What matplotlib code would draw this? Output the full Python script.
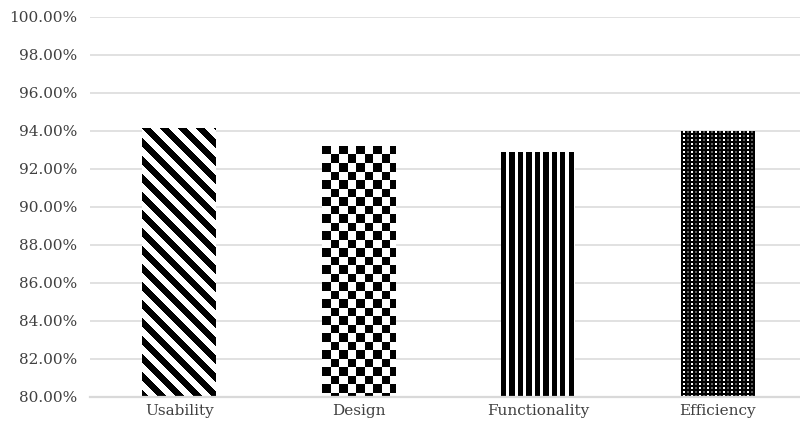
import numpy as np
import matplotlib
matplotlib.use('Agg')
import matplotlib.pyplot as plt
import matplotlib as mpl
from matplotlib.ticker import FuncFormatter

mpl.rcParams['font.family'] = ['DejaVu Serif']

# data
categories = ['Usability', 'Design', 'Functionality', 'Efficiency']
values = [94.15, 93.2, 92.87, 93.98]
y_ticks = [80, 82, 84, 86, 88, 90, 92, 94, 96, 98, 100]

grid_col = '#d9d9d9'
text_col = '#404040'
bar_w = 0.41

fig = plt.figure(figsize=(8, 4.3), dpi=100)
# axes spans a bit past the right edge, like the cropped original
ax = fig.add_axes([89.5 / 800, 1 - 396.7 / 430, 718 / 800, 380 / 430])

x = np.arange(len(categories))
bars = ax.bar(x, [v - 80 for v in values], bottom=80, width=bar_w,
              color='white', edgecolor='black', linewidth=0, zorder=2)


def pattern_image(patch, tile, cx, cy):
    # tile a small pattern over the bar and clip it to the bar
    x0, y0 = patch.get_x(), patch.get_y()
    w, h = patch.get_width(), patch.get_height()
    nx = int(np.ceil(w / cx))
    ny = int(np.ceil(h / cy))
    ty, tx = tile.shape
    img = np.tile(tile, (ny // ty + 1, nx // tx + 1))[:ny, :nx]
    top = y0 + h
    im = ax.imshow(img, cmap='gray', vmin=0, vmax=1, interpolation='nearest',
                   extent=[x0, x0 + nx * cx, top - ny * cy, top],
                   origin='upper', aspect='auto', zorder=3)
    im.set_clip_path(patch)


px_x = 1 / 179.5   # one pixel in category units
px_y = 1 / 19.0    # one pixel in percent units

# Usability: wide downward diagonal (18 px period, about half black)
period = 18
ii, jj = np.meshgrid(np.arange(period), np.arange(period), indexing='ij')
diag = (((jj - ii) % period) >= 9).astype(float)
pattern_image(bars[0], diag, px_x, px_y)

# Design: checkerboard
checker = np.array([[0, 1], [1, 0]])
pattern_image(bars[1], checker, 8.5 * px_x, 8.5 * px_y)

# Functionality: vertical stripes, black wider than white
stripes = np.array([[0, 0, 0, 0, 0, 1, 1, 1]], dtype=float)
pattern_image(bars[2], stripes, 1.05 * px_x, px_y)

# Efficiency: black with small white dots
dots = np.array([[0, 1, 0, 0.35],
                 [0, 0, 0, 0]])
pattern_image(bars[3], dots, 2 * px_x, 2 * px_y)

ax.set_xlim(-0.5, len(categories) - 0.5)
ax.set_ylim(80, 100)
ax.set_yticks(y_ticks)
ax.yaxis.set_major_formatter(FuncFormatter(lambda v, p: f'{v:.2f}%'))
ax.set_xticks(x)
ax.set_xticklabels(categories)

ax.grid(axis='y', color=grid_col, linewidth=1.1, zorder=0)
ax.set_axisbelow(True)
for s in ['top', 'right', 'left']:
    ax.spines[s].set_visible(False)
ax.spines['bottom'].set_color(grid_col)
ax.spines['bottom'].set_linewidth(1.6)
ax.spines['bottom'].set_zorder(4)

ax.tick_params(axis='y', length=0, pad=9, labelsize=11, labelcolor=text_col)
ax.tick_params(axis='x', length=0, pad=5, labelsize=11, labelcolor=text_col)

fig.savefig('out.png', dpi=100)
